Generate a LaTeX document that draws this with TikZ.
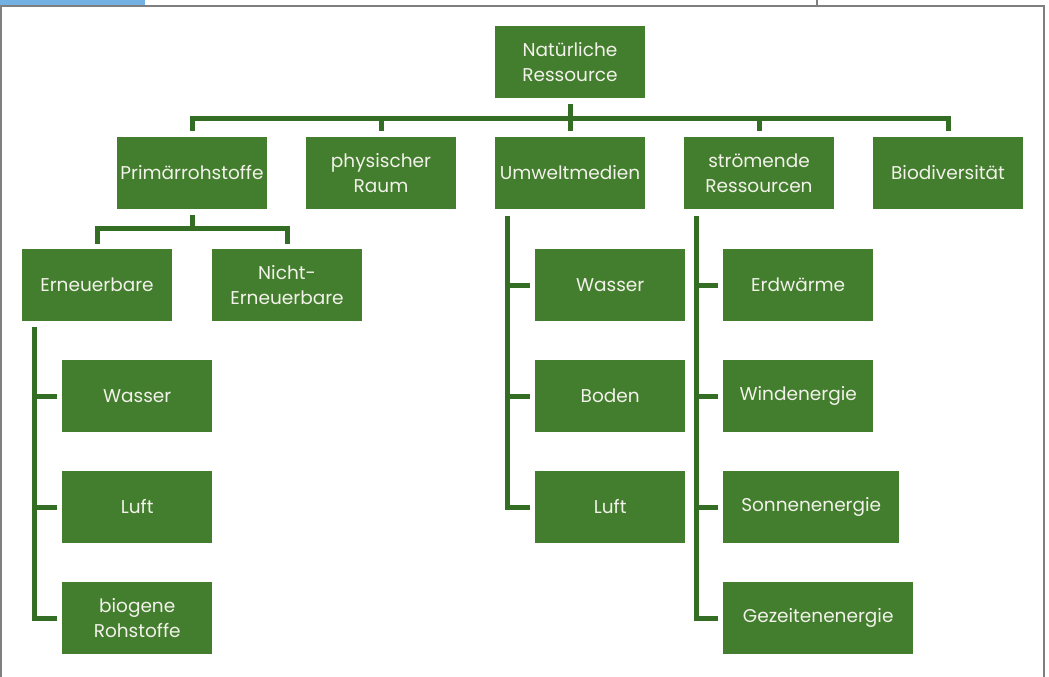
\documentclass[tikz,border=0pt]{standalone}
\usepackage{fontspec}
\setmainfont{Poppins}
\usetikzlibrary{positioning,calc}
\definecolor{Leaf}{HTML}{437D2E}
\definecolor{Stem}{HTML}{346E24}
\definecolor{Paper}{HTML}{F2F2EA}
\definecolor{Frame}{HTML}{7F7F7F}
\definecolor{Tab}{HTML}{72B1E2}
\tikzset{
  res/.style={fill=Leaf,text=Paper,minimum width=150pt,minimum height=72pt,align=center,inner xsep=1pt,font=\fontsize{18.5}{25}\selectfont},
  link/.style={draw=Stem,line width=5pt},
  frameline/.style={draw=Frame,line width=2pt}
}
\begin{document}
\begin{tikzpicture}[x=1pt,y=-1pt]
  \useasboundingbox (0,0) rectangle (1049,677);
  % frame
  \fill[Tab] (0,0) rectangle (145,5);
  \draw[frameline] (1,677) -- (1,6) -- (1044,6) -- (1044,677);
  \draw[frameline] (817,0) -- (817,6);
  % boxes
  \node[res] (top) at (570,62) {Natürliche\\Ressource};
  \node[res] (prim) at (192,173) {Primärrohstoffe};
  \node[res] (phys) at (381,173) {physischer\\Raum};
  \node[res] (umw) at (570,173) {Umweltmedien};
  \node[res] (str) at (759,173) {strömende\\Ressourcen};
  \node[res] (bio) at (948,173) {Biodiversität};
  \node[res] (ern) at (97,285) {Erneuerbare};
  \node[res] (nern) at (287,285) {Nicht-\\Erneuerbare};
  \node[res,anchor=west] (ewas) at (62,396) {Wasser};
  \node[res,anchor=west] (eluf) at (62,507) {Luft};
  \node[res,anchor=west] (ebio) at (62,618) {biogene\\Rohstoffe};
  \node[res,anchor=west] (uwas) at (535,285) {Wasser};
  \node[res,anchor=west] (ubod) at (535,396) {Boden};
  \node[res,anchor=west] (uluf) at (535,507) {Luft};
  \node[res,anchor=west] (serd) at (723,285) {Erdwärme};
  \node[res,anchor=west] (swin) at (723,396) {Windenergie};
  \node[res,anchor=west,minimum width=176pt] (sson) at (723,507) {Sonnenenergie};
  \node[res,anchor=west,minimum width=190pt] (sgez) at (723,618) {Gezeitenenergie};
  % top level
  \coordinate (tbar) at (570,118);
  \draw[link] ([yshift=6pt]prim.north) |- (tbar) -| ([yshift=6pt]bio.north);
  \draw[link] ([yshift=-6pt]top.south) -- ([yshift=6pt]umw.north);
  \foreach \n in {phys,str}
    \draw[link] ([yshift=6pt]\n.north) -- (\n.north |- tbar);
  % primary raw materials
  \coordinate (pbar) at (192,228);
  \draw[link] ([yshift=-6pt]prim.south) -- (pbar);
  \draw[link] ([yshift=5pt]ern.north) |- (pbar) -| ([yshift=5pt]nern.north);
  % spines
  \draw[link] ([xshift=13pt,yshift=-6pt]ern.south west) |- ([xshift=-5pt]ebio.west);
  \foreach \c in {ewas,eluf}
    \draw[link] ([xshift=13pt]ern.west |- \c.west) -- ([xshift=-5pt]\c.west);
  \draw[link] ([xshift=13pt,yshift=-7pt]umw.south west) |- ([xshift=-5pt]uluf.west);
  \foreach \c in {uwas,ubod}
    \draw[link] ([xshift=13pt]umw.west |- \c.west) -- ([xshift=-5pt]\c.west);
  \draw[link] ([xshift=13pt,yshift=-7pt]str.south west) |- ([xshift=-5pt]sgez.west);
  \foreach \c in {serd,swin,sson}
    \draw[link] ([xshift=13pt]str.west |- \c.west) -- ([xshift=-5pt]\c.west);
\end{tikzpicture}
\end{document}
